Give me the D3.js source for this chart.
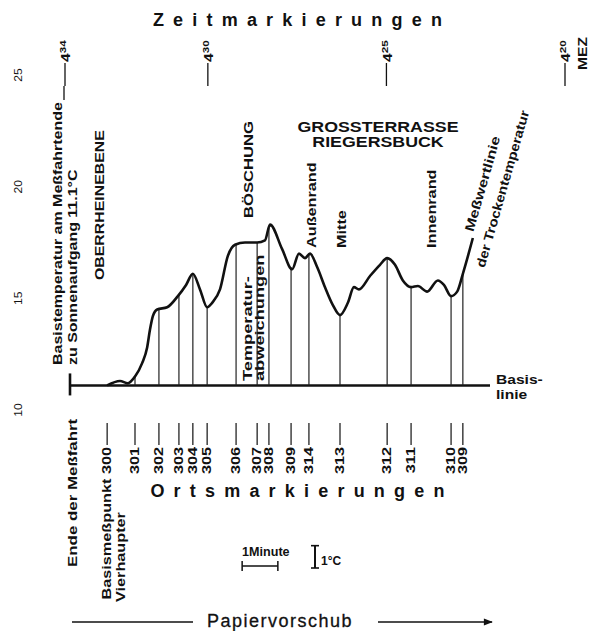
<!DOCTYPE html>
<html>
<head>
<meta charset="utf-8">
<script src="https://d3js.org/d3.v7.min.js"></script>
<style>
  body { margin: 0; background: #fff; }
  svg { font-family: "Liberation Sans", Arial, sans-serif; }
  text { fill: #111; }
</style>
</head>
<body>
<script>
// Zeit in Minuten nach 4 Uhr MEZ (Papier läuft von 4.34 nach 4.20)
var timeTicks = [34, 30, 25, 20];
var tempTicks = [10, 15, 20, 25];
var baseTemp = 11.1;
var runStart = 33.86, runEnd = 22.1;

// Meßwertlinie der Trockentemperatur
var curveTime = [32.82, 32.46, 32.24, 32.04, 31.84, 31.70, 31.62, 31.54, 31.42, 31.14,
  30.84, 30.61, 30.42, 30.22, 30.02, 29.88, 29.66, 29.44, 29.24, 28.96,
  28.62, 28.40, 28.26, 27.92, 27.64, 27.45, 27.28, 27.14, 26.94, 26.72,
  26.50, 26.30, 26.08, 25.91, 25.77, 25.46, 25.18, 24.98, 24.76, 24.54,
  24.31, 24.12, 23.86, 23.56, 23.39, 23.19, 23.02, 22.86, 22.58];
var curveTemp = [11.1, 11.3, 11.2, 11.5, 12.1, 12.8, 13.6, 14.2, 14.5, 14.6,
  15.1, 15.6, 16.1, 15.4, 14.6, 14.8, 15.4, 16.9, 17.4, 17.5,
  17.5, 17.6, 18.3, 17.2, 16.3, 17.0, 16.8, 17.0, 16.4, 15.5,
  14.7, 14.25, 14.8, 15.5, 15.4, 16.0, 16.5, 16.8, 16.5, 15.8,
  15.5, 15.55, 15.3, 15.8, 15.6, 15.1, 15.3, 16.1, 17.7];

// Ortsmarkierungen
var siteNames = ["300", "301", "302", "303", "304", "305", "306", "307", "308",
  "309", "314", "313", "312", "311", "310", "309"];
var siteTime = [32.82, 32.04, 31.37, 30.81, 30.42, 30.02, 29.21, 28.62, 28.29,
  27.67, 27.17, 26.30, 24.98, 24.31, 23.19, 22.86];

var width = 590, height = 631;
var svg = d3.select("body").append("svg")
    .attr("width", width)
    .attr("height", height);

var x = d3.scaleLinear().domain([34, 20]).range([65, 565]);
var y = d3.scaleLinear().domain([10, 25]).range([410, 75]);

var pts = curveTime.map(function (t, i) { return [t, curveTemp[i]]; });

function tempAt(t) {
  for (var i = 0; i < pts.length - 1; i++) {
    var a = pts[i], b = pts[i + 1];
    if (t <= a[0] && t >= b[0]) {
      return a[1] + (b[1] - a[1]) * (a[0] - t) / (a[0] - b[0]);
    }
  }
  return baseTemp;
}

// text helper: rot in degrees, stretch widens the glyphs along the text
function label(px, py, rot, str, size, weight, anchor, stretch) {
  return svg.append("text")
      .attr("transform", "translate(" + px + "," + py + ") rotate(" + rot + ") scale(" + (stretch || 1) + ",1)")
      .attr("text-anchor", anchor || "start")
      .attr("dominant-baseline", rot ? "central" : "auto")
      .style("font-size", size + "px")
      .style("font-weight", weight || "bold")
      .text(str);
}
function vtext(px, py, str, size, weight, anchor, stretch) {
  return label(px, py, -90, str, size, weight, anchor, stretch);
}

// Titel
svg.append("text")
    .attr("x", 302).attr("y", 26)
    .attr("text-anchor", "middle")
    .style("font-size", "18px").style("font-weight", "bold")
    .style("letter-spacing", "9.2px")
    .text("Zeitmarkierungen");

svg.append("text")
    .attr("x", 302).attr("y", 497)
    .attr("text-anchor", "middle")
    .style("font-size", "18px").style("font-weight", "bold")
    .style("letter-spacing", "9.2px")
    .text("Ortsmarkierungen");

// Temperaturskala (gedreht)
tempTicks.forEach(function (v) {
  vtext(18, y(v), v, 11, "normal", "middle", 1.1);
});

// Zeitmarken oben
timeTicks.forEach(function (t) {
  svg.append("line")
      .attr("x1", x(t)).attr("x2", x(t))
      .attr("y1", 63).attr("y2", 86)
      .attr("stroke", "#111").attr("stroke-width", 1.3);
  var tx = vtext(x(t) + 1, 62, "", 12, "bold", "start", 1.3);
  tx.append("tspan").text("4");
  tx.append("tspan").attr("dy", -3).style("font-size", "9px").text(t);
});
vtext(583, 70, "MEZ", 12, "bold", "start", 1.3);

// Basislinie
svg.append("line")
    .attr("x1", x(runStart)).attr("x2", x(runEnd))
    .attr("y1", y(baseTemp)).attr("y2", y(baseTemp))
    .attr("stroke", "#111").attr("stroke-width", 2.6);
svg.append("line")
    .attr("x1", x(runStart)).attr("x2", x(runStart))
    .attr("y1", y(baseTemp) - 12).attr("y2", y(baseTemp) + 10)
    .attr("stroke", "#111").attr("stroke-width", 2.6);
label(496, 384, 0, "Basis-", 13, "bold", "start", 1.2);
label(496, 399, 0, "linie", 13, "bold", "start", 1.2);

// senkrechte Linien an den Ortsmarken
svg.selectAll("line.site")
  .data(siteTime)
  .enter().append("line")
    .attr("class", "site")
    .attr("x1", function (d) { return x(d); })
    .attr("x2", function (d) { return x(d); })
    .attr("y1", y(baseTemp))
    .attr("y2", function (d) { return y(tempAt(d)); })
    .attr("stroke", "#222").attr("stroke-width", 1.2);

// Meßwertlinie
svg.append("path")
    .datum(pts)
    .attr("fill", "none")
    .attr("stroke", "#111")
    .attr("stroke-width", 2.6)
    .attr("stroke-linejoin", "round")
    .attr("d", d3.line()
      .x(function (d) { return x(d[0]); })
      .y(function (d) { return y(d[1]); })
      .curve(d3.curveMonotoneX));

// Ortsmarken unten
siteTime.forEach(function (t, i) {
  svg.append("line")
      .attr("x1", x(t)).attr("x2", x(t))
      .attr("y1", 423).attr("y2", 445)
      .attr("stroke", "#111").attr("stroke-width", 1.2);
  var txt = i === 0 ? "Basismeßpunkt " + siteNames[i] : siteNames[i];
  vtext(x(t), 447, txt, 12.5, "bold", "end", 1.3);
});
vtext(121, 602, "Vierhaupter", 12.5, "bold", "start", 1.3);
vtext(x(runStart) + 2, 567, "Ende der Meßfahrt", 13, "bold", "start", 1.3);

// Beschriftung links
vtext(58, 365, "Basistemperatur am Meßfahrtende", 13, "bold", "start", 1.23);
vtext(73, 365, "zu Sonnenaufgang 11.1°C", 13, "bold", "start", 1.23);
svg.append("line")
    .attr("x1", 64).attr("x2", 64).attr("y1", 86).attr("y2", 100)
    .attr("stroke", "#111").attr("stroke-width", 1.3);

vtext(100, 280, "OBERRHEINEBENE", 13, "bold", "start", 1.22);
vtext(248, 218, "BÖSCHUNG", 13, "bold", "start", 1.28);
vtext(247, 381, "Temperatur-", 13.5, "bold", "start", 1.35);
vtext(259, 381, "abweichungen", 13.5, "bold", "start", 1.35);
vtext(312, 248, "Außenrand", 13, "bold", "start", 1.25);
vtext(342, 248, "Mitte", 13, "bold", "start", 1.25);
vtext(432, 248, "Innenrand", 13, "bold", "start", 1.25);

label(378, 132, 0, "GROSSTERRASSE", 14, "bold", "middle", 1.27);
label(378, 147, 0, "RIEGERSBUCK", 14, "bold", "middle", 1.27);

label(469, 231, -74, "Meßwertlinie", 13, "bold", "start", 1.25);
label(480, 267, -74, "der Trockentemperatur", 13, "bold", "start", 1.15);

// Maßstäbe
label(242, 556, 0, "1Minute", 12, "bold", "start", 1.05);
var sb = [x(29.04), x(28.04)];
svg.append("line").attr("x1", sb[0]).attr("x2", sb[1]).attr("y1", 566).attr("y2", 566)
    .attr("stroke", "#111").attr("stroke-width", 1.5);
sb.forEach(function (v) {
  svg.append("line").attr("x1", v).attr("x2", v).attr("y1", 561).attr("y2", 571)
      .attr("stroke", "#111").attr("stroke-width", 1.5);
});
var ty = [y(10) + 158, y(11) + 158];
svg.append("line").attr("x1", 315).attr("x2", 315).attr("y1", ty[0]).attr("y2", ty[1])
    .attr("stroke", "#111").attr("stroke-width", 2);
ty.forEach(function (v) {
  svg.append("line").attr("x1", 311).attr("x2", 319).attr("y1", v).attr("y2", v)
      .attr("stroke", "#111").attr("stroke-width", 1.6);
});
label(321, 565, 0, "1°C", 12, "bold", "start", 1);

// Papiervorschub
svg.append("defs").append("marker")
    .attr("id", "arr").attr("viewBox", "0 0 10 10")
    .attr("refX", 9).attr("refY", 5)
    .attr("markerWidth", 8).attr("markerHeight", 6)
    .attr("orient", "auto")
  .append("path").attr("d", "M0,1L10,5L0,9Z").attr("fill", "#111");
svg.append("line").attr("x1", 72).attr("x2", 193).attr("y1", 622).attr("y2", 622)
    .attr("stroke", "#111").attr("stroke-width", 1.5);
svg.append("line").attr("x1", 378).attr("x2", 492).attr("y1", 622).attr("y2", 622)
    .attr("stroke", "#111").attr("stroke-width", 1.5)
    .attr("marker-end", "url(#arr)");
svg.append("text").attr("x", 280).attr("y", 627)
    .attr("text-anchor", "middle")
    .style("font-size", "18px").style("letter-spacing", "1.5px")
    .style("stroke", "#111").style("stroke-width", "0.3px")
    .text("Papiervorschub");
</script>
</body>
</html>
